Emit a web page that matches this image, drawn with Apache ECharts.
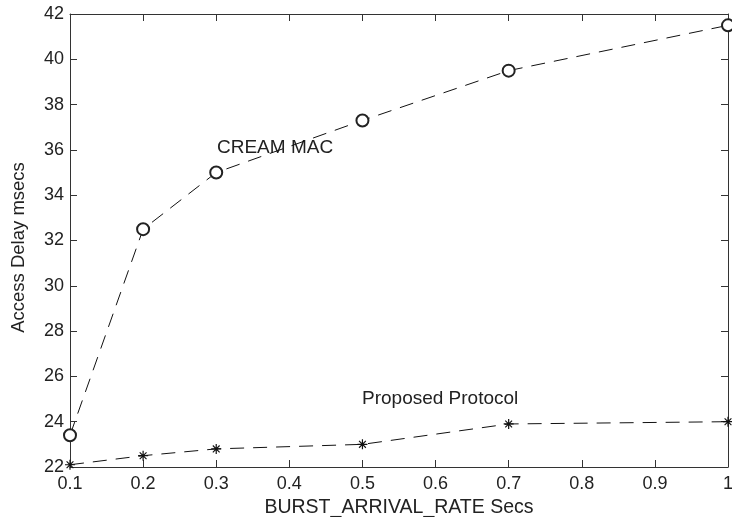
<!DOCTYPE html>
<html><head><meta charset="utf-8">
<script src="https://cdn.jsdelivr.net/npm/echarts@6/dist/echarts.min.js"></script>
<style>html,body{margin:0;padding:0;background:#fff}#c{width:732px;height:517px}</style>
</head><body><div id="c"></div>
<script>
const xValues = [0.1, 0.2, 0.3, 0.5, 0.7, 1.0];
const creamMac = [23.4, 32.5, 35.0, 37.3, 39.5, 41.5];
const proposed = [22.1, 22.5, 22.8, 23.0, 23.9, 24.0];
const seriesNames = ['CREAM MAC', 'Proposed Protocol'];
const xTitle = 'BURST_ARRIVAL_RATE Secs';
const yTitle = 'Access Delay msecs';

const font = 'Liberation Sans, Arial, sans-serif';
const axisCol = '#333';
const star = 'path://M0,4.4 L10,4.4 L10,5.6 L0,5.6 Z M4.4,0 L5.6,0 L5.6,10 L4.4,10 Z M1.2,2 L2,1.2 L8.8,8 L8,8.8 Z M1.2,8 L8,1.2 L8.8,2 L2,8.8 Z';

const chart = echarts.init(document.getElementById('c'), null, {renderer: 'canvas'});
const baseAxis = {
  axisLine: {lineStyle: {color: axisCol, width: 1}},
  axisTick: {inside: true, length: 7, lineStyle: {color: axisCol}},
  splitLine: {show: false}
};
chart.setOption({
  animation: false,
  grid: {left: 70, right: 4, top: 14, bottom: 50, containLabel: false, outerBoundsMode: 'none'},
  xAxis: [
    Object.assign({}, baseAxis, {type: 'value', min: 0.1, max: 1, interval: 0.1, position: 'bottom',
      name: xTitle, nameLocation: 'middle', nameGap: 28,
      nameTextStyle: {fontFamily: font, fontSize: 19.5, color: '#222'},
      axisLabel: {fontFamily: font, fontSize: 18, color: '#222', margin: 8,
        formatter: v => (Math.abs(v - 1) < 1e-9 ? '1' : v.toFixed(1))}}),
    Object.assign({}, baseAxis, {type: 'value', min: 0.1, max: 1, interval: 0.1, position: 'top',
      axisLabel: {show: false}})
  ],
  yAxis: [
    Object.assign({}, baseAxis, {type: 'value', min: 22, max: 42, interval: 2, position: 'left',
      name: yTitle, nameLocation: 'middle', nameGap: 42,
      nameTextStyle: {fontFamily: font, fontSize: 18.5, color: '#222', padding: [0, 14, 0, 0]},
      axisLabel: {fontFamily: font, fontSize: 18, color: '#222', margin: 6}}),
    Object.assign({}, baseAxis, {type: 'value', min: 22, max: 42, interval: 2, position: 'right',
      axisLabel: {show: false}})
  ],
  series: [
    {name: seriesNames[0], type: 'line', data: xValues.map((x, i) => [x, creamMac[i]]),
      symbol: 'emptyCircle', symbolSize: 12, showAllSymbol: true,
      itemStyle: {color: '#222', borderColor: '#222', borderWidth: 0.9},
      lineStyle: {color: '#111', width: 1, type: [14, 9]}},
    {name: seriesNames[1], type: 'line', data: xValues.map((x, i) => [x, proposed[i]]),
      symbol: star, symbolSize: 10, showAllSymbol: true,
      itemStyle: {color: '#111'},
      lineStyle: {color: '#111', width: 1, type: [14, 9]}}
  ],
  graphic: [
    {type: 'text', left: 217, top: 138, style: {text: seriesNames[0], font: '19px ' + font, fill: '#222'}},
    {type: 'text', left: 362, top: 389, style: {text: seriesNames[1], font: '19px ' + font, fill: '#222'}}
  ]
});
</script></body></html>
